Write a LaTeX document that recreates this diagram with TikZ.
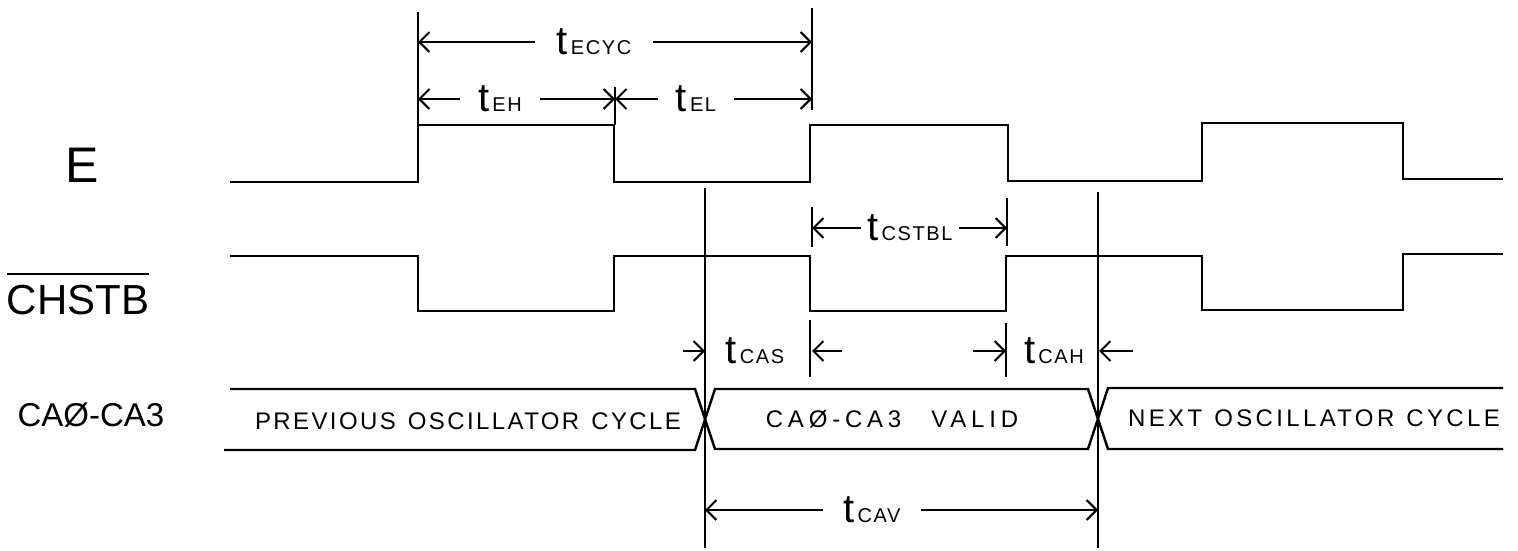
\documentclass[tikz,border=0pt]{standalone}
\usepackage{fontspec}
\setmainfont{Liberation Sans}
\usetikzlibrary{arrows.meta}
\newcommand\tlab[1]{{\fontsize{40}{40}\selectfont t}\hspace{3pt}{\fontsize{20}{20}\selectfont\addfontfeature{LetterSpace=8}#1}}
\begin{document}
\begin{tikzpicture}[x=1pt,y=-1pt,
  sig/.style={line width=2.4pt, line join=miter},
  guide/.style={line width=1.8pt},
  dimline/.style={line width=2pt, -{Straight Barb[length=10pt,width=20pt,line width=2pt]}},
  tl/.style={inner xsep=14pt, inner ysep=0pt, anchor=center},
  signame/.style={inner sep=0pt, anchor=center},
  buslab/.style={inner sep=0pt, anchor=center, font=\fontsize{24}{24}\selectfont}
]
\path[fill=white,use as bounding box] (0,0) rectangle (1518,550);

% signal names
\node[signame, font=\fontsize{50}{50}\selectfont] (nE) at (82,165) {E};
\node[signame, font=\fontsize{42}{42}\selectfont] (nCH) at (78,300) {CHSTB};
\draw[line width=2pt] ([yshift=11pt]nCH.north west) -- ([yshift=11pt]nCH.north east);
\node[signame, font=\fontsize{33}{33}\selectfont] (nCA) at (91,415) {CAØ-CA3};

% E waveform
\draw[sig] (230,182) -- (418,182) -- (418,125) -- (614,125) -- (614,182) -- (810,182)
  -- (810,125) -- (1008,125) -- (1008,181) -- (1202,181) -- (1202,123) -- (1403,123)
  -- (1403,179) -- (1503,179);

% CHSTB waveform
\draw[sig] (230,256) -- (418,256) -- (418,311) -- (614,311) -- (614,256) -- (810,256)
  -- (810,311) -- (1006,311) -- (1006,256) -- (1202,256) -- (1202,310) -- (1403,310)
  -- (1403,254) -- (1503,254);

% bus
\draw[sig] (230,389) -- (695,389) -- (715,449) -- (1088,449) -- (1108,388) -- (1503,388);
\draw[sig] (224,450) -- (695,450) -- (715,389) -- (1088,389) -- (1108,449) -- (1503,449);
\node[buslab] (bprev) at (468,421) {\addfontfeature{LetterSpace=10}PREVIOUS\hspace{12pt}OSCILLATOR\hspace{12pt}CYCLE};
\node[buslab] (bvalid) at (892,419) {\addfontfeature{LetterSpace=20}CAØ-CA3\hspace{30pt}VALID};
\node[buslab] (bnext) at (1314,418) {\addfontfeature{LetterSpace=14}NEXT\hspace{12pt}OSCILLATOR\hspace{12pt}CYCLE};

% guide lines
\draw[guide] (705,188) -- (705,548);
\draw[guide] (1098,192) -- (1098,548);
\draw[guide] (418,12) -- (418,125);
\draw[guide] (812,8) -- (812,110);
\draw[guide] (615,87) -- (615,125);
\draw[guide] (812,207) -- (812,247);
\draw[guide] (1007,198) -- (1007,246);
\draw[guide] (810,320) -- (810,377);
\draw[guide] (1006,323) -- (1006,377);

% coordinates for dimension arrows
\coordinate (ecycA) at (418,42);
\coordinate (ecycB) at (812,42);
\coordinate (ehA) at (418,99);
\coordinate (ehB) at (615,99);
\coordinate (elB) at (812,99);
\coordinate (csA) at (812,228);
\coordinate (csB) at (1007,228);
\coordinate (cavA) at (705,510);
\coordinate (cavB) at (1098,510);

% tECYC
\node[tl, inner xsep=22pt] (lecyc) at (594,42) {\tlab{ECYC}};
\draw[dimline] (lecyc) -- (ecycA);
\draw[dimline] (lecyc) -- (ecycB);
% tEH / tEL
\node[tl, inner xsep=18pt] (leh) at (500,99) {\tlab{EH}};
\draw[dimline] (leh) -- (ehA);
\draw[dimline] (leh) -- (ehB);
\node[tl, inner xsep=18pt] (lel) at (696,99) {\tlab{EL}};
\draw[dimline] (lel) -- (ehB);
\draw[dimline] (lel) -- (elB);
% tCSTBL
\node[tl, inner xsep=6pt] (lcs) at (910,228) {\tlab{CSTBL}};
\draw[dimline] (lcs) -- (csA);
\draw[dimline] (lcs) -- (csB);
% tCAV
\node[tl, inner xsep=20pt] (lcav) at (872,510) {\tlab{CAV}};
\draw[dimline] (lcav) -- (cavA);
\draw[dimline] (lcav) -- (cavB);

% tCAS / tCAH (outside arrows)
\node[tl] (lcas) at (755,351) {\tlab{CAS}};
\node[tl] (lcah) at (1054,351) {\tlab{CAH}};
\coordinate (casA0) at (683,351);
\coordinate (casA1) at (705,351);
\coordinate (casB0) at (842,351);
\coordinate (casB1) at (812,351);
\coordinate (cahA0) at (973,351);
\coordinate (cahA1) at (1006,351);
\coordinate (cahB0) at (1133,351);
\coordinate (cahB1) at (1099,351);
\draw[dimline] (casA0) -- (casA1);
\draw[dimline] (casB0) -- (casB1);
\draw[dimline] (cahA0) -- (cahA1);
\draw[dimline] (cahB0) -- (cahB1);
\end{tikzpicture}
\end{document}
